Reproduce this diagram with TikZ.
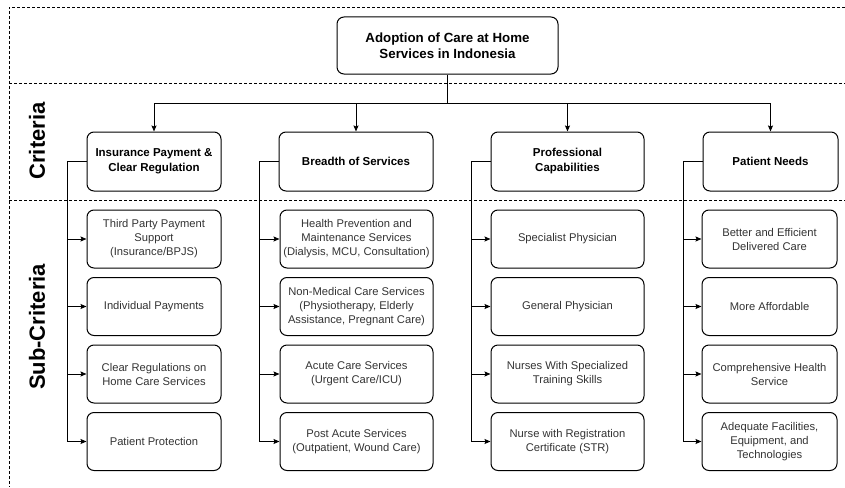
\documentclass[tikz,border=0pt]{standalone}
\usepackage{fontspec}
\setmainfont{Liberation Sans}
\usetikzlibrary{arrows.meta,positioning}
\definecolor{subtext}{gray}{0.2}
\tikzset{
  box/.style={draw=black, line width=1pt, rounded corners=7pt, align=center, inner sep=1pt},
  topbox/.style={box, minimum width=221pt, minimum height=57pt, font=\fontsize{13.3}{16}\selectfont\bfseries},
  critbox/.style={box, minimum height=59pt, font=\fontsize{11.5}{15}\selectfont\bfseries},
  subbox/.style={box, minimum height=58pt, text=subtext, font=\fontsize{11.2}{14}\selectfont},
  conn/.style={draw=black, line width=1pt},
  arr/.style={conn, -{Stealth[length=6pt,width=5pt,inset=1pt]}},
  frame/.style={draw=black, line width=0.8pt, dash pattern=on 3pt off 2pt},
  sidelabel/.style={rotate=90, font=\fontsize{22}{26}\selectfont\bfseries}
}
\begin{document}
\begin{tikzpicture}[x=1pt,y=-1pt]
\useasboundingbox (0,0) rectangle (845,487);
% frame
\coordinate (ftl) at (9,7);
\coordinate (ftr) at (845,7);
\coordinate (fbl) at (9,487);
\coordinate (l1a) at (9,83);
\coordinate (l1b) at (845,83);
\coordinate (l2a) at (9,200);
\coordinate (l2b) at (845,200);
\draw[frame] (ftr) -- (ftl) -- (fbl);
\draw[frame] (l1a) -- (l1b);
\draw[frame] (l2a) -- (l2b);
% side labels
\node[sidelabel] (lcrit) at (37,141) {Criteria};
\node[sidelabel] (lsub) at (37,327) {Sub-Criteria};
% top
\node[topbox] (top) at (447.5,45.5) {Adoption of Care at Home\\Services in Indonesia};
% criteria
\node[critbox, minimum width=134pt] (c1) at (154,161.5) {Insurance Payment \&\\Clear Regulation};
\node[critbox, minimum width=154pt] (c2) at (356,161.5) {Breadth of Services};
\node[critbox, minimum width=153pt] (c3) at (567.5,161.5) {Professional\\Capabilities};
\node[critbox, minimum width=135pt] (c4) at (770.5,161.5) {Patient Needs};
% sub-criteria col 1
\node[subbox, minimum width=134pt] (s11) at (154,239) {Third Party Payment\\Support\\(Insurance/BPJS)};
\node[subbox, minimum width=134pt] (s12) at (154,306.5) {Individual Payments};
\node[subbox, minimum width=134pt] (s13) at (154,374) {Clear Regulations on\\Home Care Services};
\node[subbox, minimum width=134pt] (s14) at (154,441.5) {Patient Protection};
% col 2
\node[subbox, minimum width=153pt] (s21) at (356.5,239) {Health Prevention and\\Maintenance Services\\(Dialysis, MCU, Consultation)};
\node[subbox, minimum width=153pt] (s22) at (356.5,306.5) {Non-Medical Care Services\\(Physiotherapy, Elderly\\Assistance, Pregnant Care)};
\node[subbox, minimum width=153pt] (s23) at (356.5,374) {Acute Care Services\\(Urgent Care/ICU)};
\node[subbox, minimum width=153pt] (s24) at (356.5,441.5) {Post Acute Services\\(Outpatient, Wound Care)};
% col 3
\node[subbox, minimum width=153pt] (s31) at (567.5,239) {Specialist Physician};
\node[subbox, minimum width=153pt] (s32) at (567.5,306.5) {General Physician};
\node[subbox, minimum width=153pt] (s33) at (567.5,374) {Nurses With Specialized\\Training Skills};
\node[subbox, minimum width=153pt] (s34) at (567.5,441.5) {Nurse with Registration\\Certificate (STR)};
% col 4
\node[subbox, minimum width=135pt] (s41) at (769.5,239) {Better and Efficient\\Delivered Care};
\node[subbox, minimum width=135pt] (s42) at (769.5,306.5) {More Affordable};
\node[subbox, minimum width=135pt] (s43) at (769.5,374) {Comprehensive Health\\Service};
\node[subbox, minimum width=135pt] (s44) at (769.5,441.5) {Adequate Facilities,\\Equipment, and\\Technologies};
% top connectors
\coordinate (j) at (447.5,103);
\draw[conn] (top.south) -- (j);
\foreach \c in {c1,c2,c3,c4}{
  \draw[arr] (j) -| (\c.north);
}
% side connectors
\foreach \c in {1,2,3,4}{
  \foreach \s in {1,2,3,4}{
    \draw[arr] (c\c.west) -- ++(-19,0) |- (s\c\s.west);
  }
}
\end{tikzpicture}
\end{document}
